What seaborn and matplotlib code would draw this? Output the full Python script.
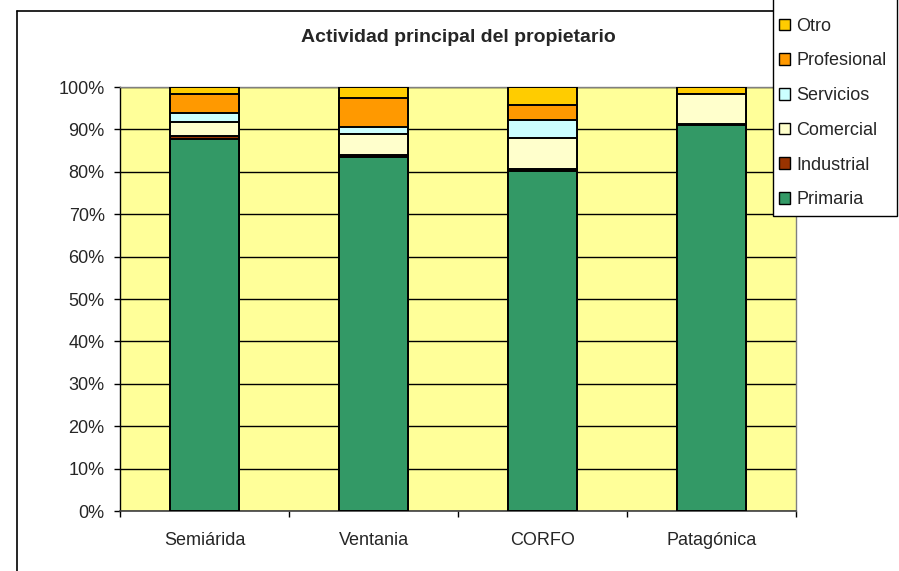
import matplotlib
matplotlib.use("Agg")
import matplotlib.pyplot as plt
import seaborn as sns
import pandas as pd
import numpy as np
from matplotlib.patches import Patch, Rectangle
from matplotlib.lines import Line2D

regions = ["Semiárida", "Ventania", "CORFO", "Patagónica"]
series = ["Primaria", "Industrial", "Comercial", "Servicios", "Profesional", "Otro"]
primaria = [87.8, 83.4, 80.1, 91.1]
industrial = [0.6, 0.6, 0.5, 0.2]
comercial = [3.4, 4.8, 7.3, 7.0]
servicios = [2.1, 1.7, 4.3, 0.0]
profesional = [4.4, 6.8, 3.5, 0.0]
otro = [1.7, 2.7, 4.3, 1.7]
colors = ["#339966", "#993300", "#FFFFCC", "#CCFFFF", "#FF9900", "#FFCC00"]
yticklabels = ["0%", "10%", "20%", "30%", "40%", "50%", "60%", "70%", "80%", "90%", "100%"]

values = np.array([primaria, industrial, comercial, servicios, profesional, otro])
totals = values.sum(axis=0)
pct = values / totals * 100
cum = np.cumsum(pct, axis=0)

sns.set_theme(style="white")
plt.rcParams["font.family"] = ["Liberation Sans", "DejaVu Sans"]

W, H = 899, 571
fig = plt.figure(figsize=(W/100, H/100), dpi=100)
ax = fig.add_axes([120/W, 1-511/H, (796-120)/W, (511-87)/H])
ax.set_facecolor("#FFFF99")

for i in range(len(series)-1, -1, -1):
    df = pd.DataFrame({"region": regions, "value": cum[i]})
    sns.barplot(data=df, x="region", y="value", color=colors[i], width=0.414,
                edgecolor="black", linewidth=1.4, ax=ax, saturation=1, zorder=3)

ax.set_ylim(0, 100)
ax.set_xlim(-0.5, 3.5)
ax.set_yticks(np.arange(0, 101, 10))
ax.set_yticklabels(yticklabels, fontsize=13)
ax.yaxis.grid(True, color="black", linewidth=1, zorder=0)
ax.set_axisbelow(True)
ax.set_xlabel("")
ax.set_ylabel("")

ax.set_xticks([-0.5, 0.5, 1.5, 2.5, 3.5])
ax.set_xticklabels([])
ax.set_xticks(range(4), minor=True)
ax.set_xticklabels(regions, minor=True, fontsize=13)
ax.tick_params(axis="x", which="major", length=4, width=1, color="black", direction="out", bottom=True)
ax.tick_params(axis="x", which="minor", length=0, pad=15)
ax.tick_params(axis="y", length=4, width=1, color="black", direction="out", left=True, pad=7)

for s in ["top", "right"]:
    ax.spines[s].set_color("#808080")
    ax.spines[s].set_linewidth(1)
ax.spines["left"].set_color("black")
ax.spines["bottom"].set_color("#404040")
ax.spines["left"].set_linewidth(1)
ax.spines["bottom"].set_linewidth(1.2)

fig.text((120+796)/2/W, 1-38/H, "Actividad principal del propietario",
         ha="center", va="center", fontsize=14, fontweight="bold")

# outer chart frame
fig.add_artist(Line2D([17/W, 17/W], [0, 1-11/H], color="black", linewidth=1.2, transform=fig.transFigure))
fig.add_artist(Line2D([17/W, 773/W], [1-11/H, 1-11/H], color="black", linewidth=1.2, transform=fig.transFigure))

# legend box
fig.add_artist(Rectangle((773/W, 1-216/H), (897-773)/W, 222/H, transform=fig.transFigure,
                         facecolor="white", edgecolor="black", linewidth=1, zorder=5))

handles = [Patch(facecolor=colors[i], edgecolor="black", linewidth=1) for i in range(len(series)-1, -1, -1)]
labels = [series[i] for i in range(len(series)-1, -1, -1)]
leg = fig.legend(handles, labels, loc="center left", bbox_to_anchor=(779/W, 1-113/H),
                 frameon=False, fontsize=13, handlelength=0.62, handleheight=0.62,
                 handletextpad=0.35, labelspacing=0.98, borderpad=0, borderaxespad=0)
leg.set_zorder(6)

fig.savefig("out.png", dpi=100)
